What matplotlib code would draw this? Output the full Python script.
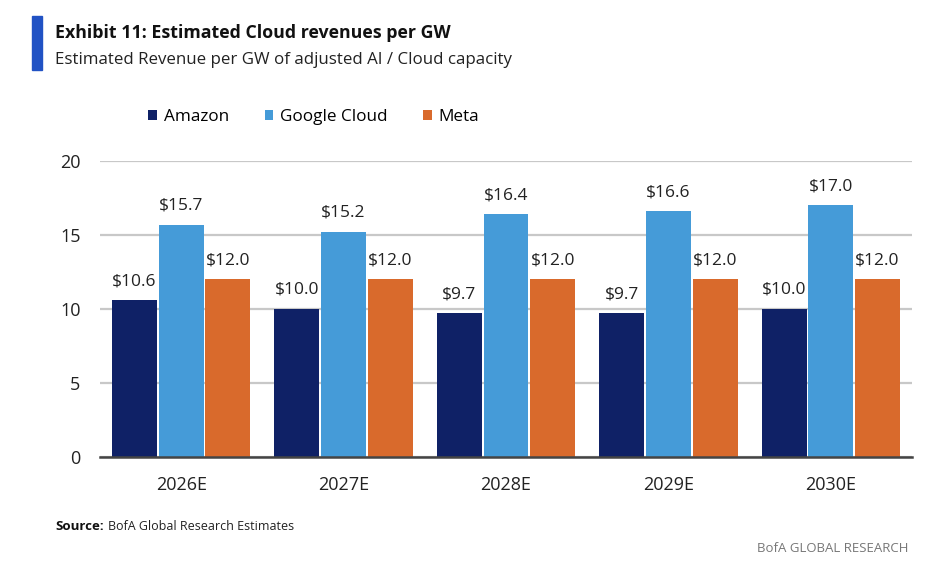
import matplotlib
matplotlib.use('Agg')
import matplotlib.pyplot as plt
import numpy as np
from matplotlib.patches import Rectangle

plt.rcParams['font.family'] = ['Open Sans', 'DejaVu Sans']

years = ['2026E', '2027E', '2028E', '2029E', '2030E']
amazon = [10.6, 10.0, 9.7, 9.7, 10.0]
google = [15.7, 15.2, 16.4, 16.6, 17.0]
meta = [12.0, 12.0, 12.0, 12.0, 12.0]

series = [('Amazon', amazon, '#0f2166'),
          ('Google Cloud', google, '#459bd8'),
          ('Meta', meta, '#d96a2c')]

fig = plt.figure(figsize=(9.5, 5.66), dpi=100)
ax = fig.add_axes([100 / 950, 1 - 457 / 566, 812 / 950, 296 / 566])

x = np.arange(len(years))
width = 0.277
step = 0.288
for i, (name, vals, color) in enumerate(series):
    pos = x + (i - 1) * step
    bars = ax.bar(pos, vals, width, color=color, label=name, zorder=3)
    for b, v in zip(bars, vals):
        ax.annotate('$%.1f' % v, (b.get_x() + b.get_width() / 2, v),
                    xytext=(0, 8), textcoords='offset points',
                    ha='center', va='bottom', fontsize=12.5, color='#222222')

ax.set_xlim(-0.5, 4.5)
ax.set_ylim(0, 20)
ax.set_yticks([0, 5, 10, 15, 20])
ax.set_xticks(x)
ax.set_xticklabels(years)
ax.tick_params(axis='both', length=0, labelsize=13, colors='#222222')
ax.tick_params(axis='y', pad=14)
ax.tick_params(axis='x', pad=14)
ax.grid(axis='y', color='#c8c8c8', linewidth=1.6, zorder=0)
for s in ['top', 'right', 'left']:
    ax.spines[s].set_visible(False)
ax.spines['bottom'].set_color('#444444')
ax.spines['bottom'].set_linewidth(1.8)
ax.spines['bottom'].set_zorder(4)

ax.legend(loc='center left', bbox_to_anchor=(0.051, 1.148), ncol=3, frameon=False,
          fontsize=12.3, handlelength=0.5, handleheight=0.5, handletextpad=0.4,
          columnspacing=2.1, borderaxespad=0)

# header
fig.patches.append(Rectangle((32 / 950, 1 - 70 / 566), 10 / 950, 54 / 566,
                             transform=fig.transFigure, color='#2152c4'))
fig.text(55 / 950, 1 - 33 / 566, 'Exhibit 11: Estimated Cloud revenues per GW',
         fontsize=12.8, fontweight='bold', va='center', color='#111111')
fig.text(55 / 950, 1 - 60 / 566, 'Estimated Revenue per GW of adjusted AI / Cloud capacity',
         fontsize=12.2, va='center', color='#222222')

# footer
fig.text(55 / 950, 1 - 527 / 566, 'Source:', fontsize=9.5, fontweight='bold',
         va='center', color='#111111')
fig.text(108 / 950, 1 - 527 / 566, 'BofA Global Research Estimates', fontsize=9,
         va='center', color='#222222')
fig.text(908 / 950, 1 - 548 / 566, 'BofA GLOBAL RESEARCH', fontsize=9.5,
         ha='right', va='center', color='#777777')

fig.savefig('out.png', dpi=100)
